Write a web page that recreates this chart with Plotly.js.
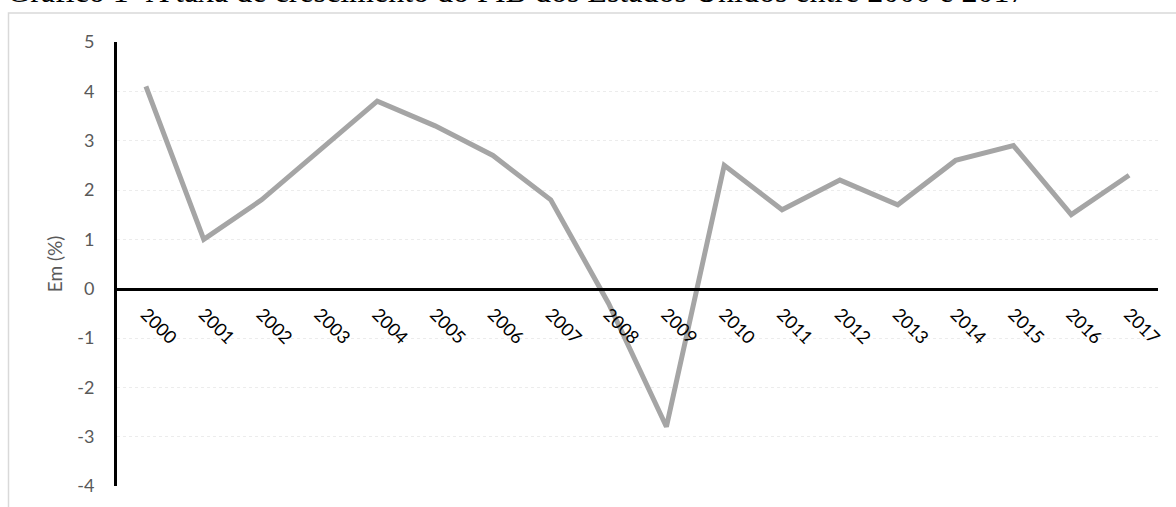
<!DOCTYPE html>
<html>
<head>
<meta charset="utf-8">
<script src="https://cdn.plot.ly/plotly-3.0.1.min.js"></script>
<style>
  html, body { margin: 0; padding: 0; background: #ffffff; }
  #chart { width: 1176px; height: 507px; }
</style>
</head>
<body>
<div id="chart"></div>
<script>
// Taxa de crescimento anual do PIB dos EUA (%)
const years = ['2000', '2001', '2002', '2003', '2004', '2005', '2006', '2007', '2008',
               '2009', '2010', '2011', '2012', '2013', '2014', '2015', '2016', '2017'];
const growth = [4.1, 1.0, 1.8, 2.8, 3.8, 3.3, 2.7, 1.8, -0.3,
                -2.8, 2.5, 1.6, 2.2, 1.7, 2.6, 2.9, 1.5, 2.3];
const yTicks = [5, 4, 3, 2, 1, 0, -1, -2, -3, -4];

const W = 1176, H = 507;
const M = { l: 117, r: 18, t: 42, b: 21 };
const plotW = W - M.l - M.r, plotH = H - M.t - M.b;
const yMin = Math.min(...yTicks), yMax = Math.max(...yTicks);

// pixel -> paper coordinate helpers for the frame around the chart
const px = x => (x - M.l) / plotW;
const py = y => (H - M.b - y) / plotH;

const trace = {
  type: 'scatter',
  mode: 'lines',
  x: years,
  y: growth,
  line: { color: '#a5a5a5', width: 5 },
  hoverinfo: 'x+y'
};

const layout = {
  width: W,
  height: H,
  margin: M,
  paper_bgcolor: '#ffffff',
  plot_bgcolor: '#ffffff',
  showlegend: false,
  title: {
    text: 'Gráfico 1- A taxa de crescimento do PIB dos Estados Unidos entre 2000 e 2017',
    font: { family: 'Liberation Serif, Times New Roman, serif', size: 32, color: '#000000' },
    xref: 'container', x: 0.006, xanchor: 'left',
    yref: 'container', y: 1, yanchor: 'top',
    pad: { t: -20 }
  },
  xaxis: {
    type: 'category',
    range: [-0.5, years.length - 0.5],
    showgrid: false,
    zeroline: false,
    showline: true,
    linecolor: '#000000',
    linewidth: 3,
    anchor: 'free',
    position: (0 - yMin) / (yMax - yMin),
    ticks: '',
    tickangle: 45,
    ticklabelstandoff: 6,
    tickfont: { family: 'Lato, Carlito, sans-serif', size: 18, color: '#000000' }
  },
  yaxis: {
    range: [yMin, yMax],
    tickvals: yTicks,
    ticktext: yTicks.map(String),
    showgrid: true,
    gridcolor: '#ececec',
    gridwidth: 1,
    griddash: 'dot',
    zeroline: false,
    showline: true,
    linecolor: '#000000',
    linewidth: 3,
    ticks: '',
    ticklabelstandoff: 16,
    tickfont: { family: 'Lato, Carlito, sans-serif', size: 18, color: '#595959' },
    title: {
      text: 'Em (%)',
      font: { family: 'Lato, Carlito, sans-serif', size: 19, color: '#595959' },
      standoff: 10
    }
  },
  shapes: [{
    type: 'rect',
    xref: 'paper', yref: 'paper',
    x0: px(8.5), x1: px(W + 20),
    y0: py(H + 20), y1: py(13),
    line: { color: '#d9d9d9', width: 1.5 },
    fillcolor: 'rgba(0,0,0,0)',
    layer: 'below'
  }]
};

Plotly.newPlot('chart', [trace], layout, { displayModeBar: false, staticPlot: true });
</script>
</body>
</html>
